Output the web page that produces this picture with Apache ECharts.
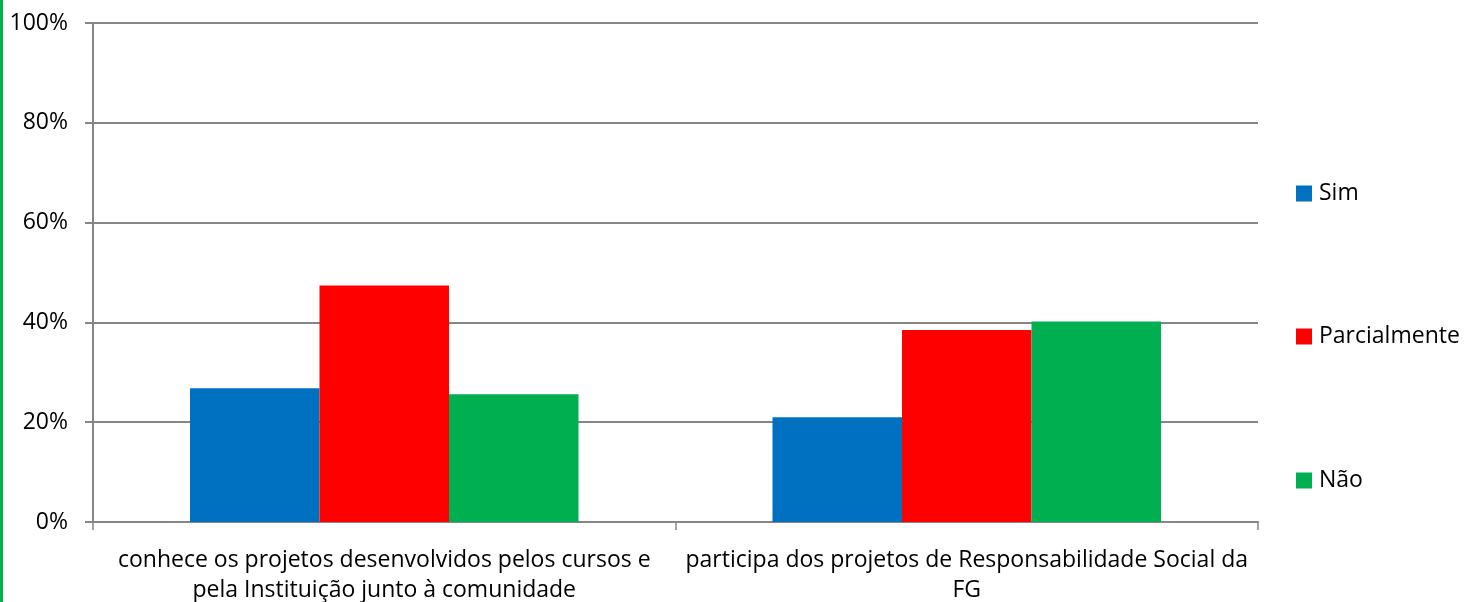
<!DOCTYPE html>
<html><head><meta charset="utf-8">
<script src="https://cdn.jsdelivr.net/npm/echarts@6/dist/echarts.min.js"></script>
<style>html,body{margin:0;padding:0;background:#fff}#c{width:1464px;height:602px;position:relative}
#bar{position:absolute;left:0;top:0;width:3px;height:602px;background:#00B050}</style>
</head><body><div id="c"></div><div id="bar"></div>
<script>
const categories = ["conhece os projetos desenvolvidos pelos cursos e\npela Instituição junto à comunidade", "participa dos projetos de Responsabilidade Social da\nFG"];
const seriesNames = ["Sim", "Parcialmente", "Não"];
const sim = [26.8, 21.0];
const parcialmente = [47.4, 38.5];
const nao = [25.6, 40.2];
const yTicks = [0, 20, 40, 60, 80, 100];
const colors = ["#0070C0", "#FF0000", "#00B050"];
const FONT = "Open Sans";
const FS = 23;
const chart = echarts.init(document.getElementById('c'), null, {renderer: 'canvas'});
const values = [sim, parcialmente, nao];
const legendTops = [182, 325, 469];
chart.setOption({
  animation: false,
  textStyle: {fontFamily: FONT},
  grid: {left: 93, right: 206, top: 23, bottom: 80, containLabel: false, outerBoundsMode: 'none'},
  legend: seriesNames.map((n, i) => ({
    data: [n], orient: 'vertical', left: 1296, top: legendTops[i], padding: 0,
    itemWidth: 16, itemHeight: 16, icon: 'rect', itemGap: 6,
    textStyle: {fontSize: FS, color: '#000', fontFamily: FONT, padding: [0, 0, 0, 2]}
  })),
  xAxis: {
    type: 'category', data: categories,
    axisLine: {lineStyle: {color: '#868686', width: 2}},
    axisTick: {show: true, length: 8, lineStyle: {color: '#868686', width: 1.5}},
    axisLabel: {fontSize: FS, color: '#000', lineHeight: 30, margin: 23, interval: 0, fontFamily: FONT}
  },
  yAxis: {
    type: 'value', min: 0, max: 100, interval: 20,
    axisLine: {show: true, lineStyle: {color: '#868686', width: 2}},
    axisTick: {show: true, length: 8, lineStyle: {color: '#868686', width: 2}},
    splitLine: {lineStyle: {color: '#868686', width: 2}},
    axisLabel: {fontSize: FS, color: '#000', margin: 25, fontFamily: FONT,
      formatter: v => yTicks.includes(v) ? v + '%' : ''}
  },
  series: seriesNames.map((n, i) => ({
    name: n, type: 'bar', data: values[i], barGap: '0%', barCategoryGap: '33.3%',
    itemStyle: {color: colors[i]}
  }))
});
</script></body></html>
